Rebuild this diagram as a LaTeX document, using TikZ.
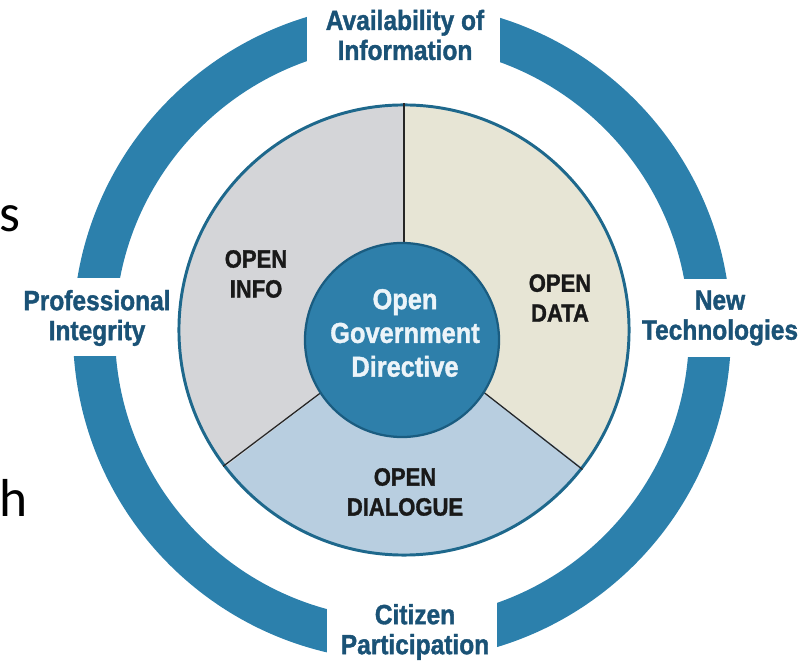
\documentclass[tikz,border=0pt]{standalone}
\usepackage{fontspec}
\newfontfamily\diagfont[FakeStretch=0.88, BoldFeatures={FakeBold=1.3}]{Liberation Sans}
\newfontfamily\slidefont{Carlito}
\usetikzlibrary{calc}
\definecolor{ringblue}{RGB}{44,128,172}
\definecolor{hubblue}{RGB}{46,127,170}
\definecolor{hubedge}{RGB}{26,92,128}
\definecolor{hubtext}{RGB}{236,244,249}
\definecolor{discedge}{RGB}{30,104,140}
\definecolor{labelblue}{RGB}{26,82,118}
\definecolor{infogray}{RGB}{212,213,216}
\definecolor{databeige}{RGB}{231,229,213}
\definecolor{dialogueblue}{RGB}{184,206,224}
\tikzset{
    ring/.style={
        fill=ringblue,
        even odd rule,
    },
    gap/.style={
        fill=white,
    },
    disc/.style={
        circle,
        draw=discedge,
        line width=2.1pt,
        minimum size=11.25cm,
        inner sep=0pt,
    },
    hub/.style={
        circle,
        draw=hubedge,
        line width=1.6pt,
        fill=hubblue,
        minimum size=4.85cm,
        inner sep=0pt,
        text=hubtext,
        align=center,
        font={\diagfont\bfseries\fontsize{20.5}{24}\selectfont},
    },
    aspect/.style={
        align=center,
        text=labelblue,
        font={\diagfont\bfseries\fontsize{19.8}{21.3}\selectfont},
    },
    pillar/.style={
        align=center,
        text=black!90,
        font={\diagfont\bfseries\fontsize{17.8}{21.3}\selectfont},
    },
    divider/.style={
        draw=black!85,
        line width=0.9pt,
    },
    slidetext/.style={
        anchor=base west,
        inner sep=0pt,
        font={\slidefont\fontsize{38}{40}\selectfont},
    },
}
\begin{document}
\begin{tikzpicture}[x=0.025cm,y=0.025cm]
    \useasboundingbox (0,0) rectangle (811,664);

    % outer ring with its four openings
    \fill[ring] (402,332) circle[radius=329] (402,332) circle[radius=287];
    \fill[gap] (307,590) rectangle (500,670);
    \fill[gap] (327,-6) rectangle (497,80);
    \fill[gap] (40,308) rectangle (150,386);
    \fill[gap] (655,307) rectangle (770,385);

    % the three sectors
    \coordinate (DiscC) at (404,334);
    \fill[infogray] (DiscC) -- ++(90:225) arc[start angle=90, end angle=217.4, radius=225] -- cycle;
    \fill[dialogueblue] (DiscC) -- ++(217.4:225) arc[start angle=217.4, end angle=322.4, radius=225] -- cycle;
    \fill[databeige] (DiscC) -- ++(-37.6:225) arc[start angle=-37.6, end angle=90, radius=225] -- cycle;
    \node [disc] (Disc) at (DiscC) {};

    \draw[divider] (DiscC) -- (Disc.90);
    \draw[divider] (DiscC) -- (Disc.217.4);
    \draw[divider] (DiscC) -- (Disc.322.4);

    \node [hub] (Hub) at (402,324) {};
    \node [hub, draw=none, fill=none] (HubText) at (405,331) {Open\\Government\\Directive};

    \node [pillar] (Info) at (256,390) {OPEN\\INFO};
    \node [pillar] (Data) at (560,366) {OPEN\\DATA};
    \node [pillar] (Dialogue) at (405,172) {OPEN\\DIALOGUE};

    \node [aspect] (Avail) at (405,629) {Availability of\\Information};
    \node [aspect] (Prof) at (97,346) {Professional\\Integrity};
    \node [aspect] (NewTech) at (720,346) {New\\Technologies};
    \node [aspect] (Citizen) at (415,32) {Citizen\\Participation};

    % cut-off slide text at the left edge
    \node [slidetext] (SlideS) at (-1,432) {s};
    \node [slidetext] (SlideH) at (-1,147) {h};
\end{tikzpicture}
\end{document}
